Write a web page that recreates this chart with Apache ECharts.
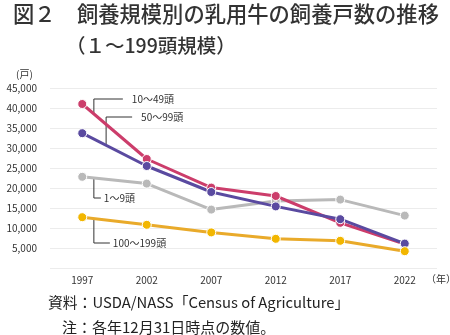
<!DOCTYPE html>
<html><head><meta charset="utf-8">
<script src="https://cdn.jsdelivr.net/npm/echarts@6/dist/echarts.min.js"></script>
<style>html,body{margin:0;padding:0;background:#fff}#c{width:450px;height:335px}</style>
</head><body><div id="c"></div>
<script>
const years = ['1997','2002','2007','2012','2017','2022'];
const yTicks = [0,5000,10000,15000,20000,25000,30000,35000,40000,45000];
const s1to9 = [22800,21100,14600,16750,17100,13100];
const s10to49 = [41000,27250,20100,18000,11300,6000];
const s50to99 = [33700,25500,19000,15400,12200,6100];
const s100to199 = [12700,10800,8900,7300,6800,4200];
const names = ['1～9頭','10～49頭','50～99頭','100～199頭'];

const FONT = '"Noto Sans CJK JP", sans-serif';
const chart = echarts.init(document.getElementById('c'), null, {renderer:'canvas'});
function ser(name, data, color, pcolor){
  return {name, type:'line', data, symbol:'circle', symbolSize:9,
    lineStyle:{color, width:3}, itemStyle:{color:pcolor||color, borderColor:'#fff', borderWidth:1},
    emphasis:{disabled:true}, animation:false};
}
chart.setOption({
  animation:false,
  grid:{left:50, right:13, top:88, bottom:67},
  xAxis:{type:'category', data:years, boundaryGap:true,
    axisLine:{show:false}, axisTick:{show:false},
    axisLabel:{color:'#333', fontSize:10, fontFamily:FONT, margin:7}},
  yAxis:{type:'value', min:yTicks[0], max:yTicks[yTicks.length-1], interval:yTicks[1]-yTicks[0],
    axisLine:{show:false}, axisTick:{show:false},
    splitLine:{lineStyle:{color:'#ececec', width:1}},
    axisLabel:{color:'#333', fontSize:10, fontFamily:FONT, margin:13,
      formatter:v => v===0 ? '' : v.toLocaleString('en-US')}},
  series:[
    ser(names[0], s1to9, '#b9b9b9'),
    ser(names[1], s10to49, '#cc3d6b'),
    ser(names[2], s50to99, '#5a4aa0'),
    ser(names[3], s100to199, '#e9aa2a', '#f2b600')
  ]
});

function px(idx, val){
  const a = chart.convertToPixel({gridIndex:0},[0,val]);
  const b = chart.convertToPixel({gridIndex:0},[1,val]);
  return [a[0]+(b[0]-a[0])*idx, a[1]];
}
function lineAt(data, idx){ return data[0]+(data[1]-data[0])*idx; }
const g = [];
const txt = (x,y,t) => g.push({type:'text', x, y, style:{text:t, fill:'#333', font:'10px '+FONT, textVerticalAlign:'middle'}, silent:true});
const seg = (x1,y1,x2,y2) => g.push({type:'line', shape:{x1,y1,x2,y2}, style:{stroke:'#333', lineWidth:1}, silent:true});
function leader(data, idx, labelVal, hLen, label, gap){
  const [x, ly] = px(idx, labelVal);
  const [, my] = px(idx, lineAt(data, idx));
  seg(x, ly, x, my);
  seg(x, ly, x+hLen, ly);
  txt(x+hLen+gap, ly, label);
}
leader(s10to49, 0.18, 42250, 29, names[1], 9);
leader(s50to99, 0.37, 37750, 26, names[2], 9);
leader(s1to9, 0.18, 17500, 7, names[0], 3);
leader(s100to199, 0.18, 6250, 16, names[3], 3);

g.push({type:'text', x:13, y:14, style:{text:'図２　飼養規模別の乳用牛の飼養戸数の推移', fill:'#333', font:'500 21.3px '+FONT, textVerticalAlign:'middle'}});
g.push({type:'text', x:66, y:46, style:{text:'（１～199頭規模）', fill:'#333', font:'500 19.5px '+FONT, textVerticalAlign:'middle'}});
txt(16, 74, '(戸)');
txt(426, 279, '（年）');
g.push({type:'text', x:48, y:302, style:{text:'資料：USDA/NASS「Census of Agriculture」', fill:'#222', font:'14.8px '+FONT, textVerticalAlign:'middle'}});
g.push({type:'text', x:62, y:327, style:{text:'注：各年12月31日時点の数値。', fill:'#222', font:'15px '+FONT, textVerticalAlign:'middle'}});
chart.setOption({graphic:g});
</script></body></html>
